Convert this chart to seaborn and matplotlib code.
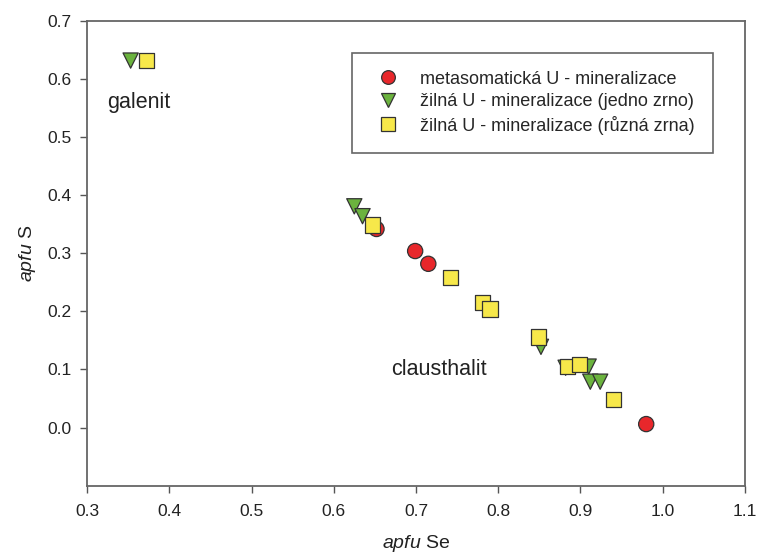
import matplotlib
matplotlib.use("Agg")
import matplotlib.pyplot as plt
import seaborn as sns
import pandas as pd

# values (apfu Se, apfu S)
meta_se = [0.652, 0.699, 0.715, 0.980]
meta_s = [0.342, 0.304, 0.282, 0.006]

jedno_se = [0.353, 0.625, 0.635, 0.852, 0.882, 0.910, 0.912, 0.924]
jedno_s = [0.632, 0.381, 0.364, 0.139, 0.103, 0.105, 0.079, 0.079]

ruzna_se = [0.372, 0.647, 0.742, 0.781, 0.790, 0.849, 0.884, 0.899, 0.940]
ruzna_s = [0.632, 0.349, 0.258, 0.216, 0.204, 0.156, 0.105, 0.108, 0.048]

labels = ["metasomatická U - mineralizace",
          "žilná U - mineralizace (jedno zrno)",
          "žilná U - mineralizace (různá zrna)"]

df = pd.concat([
    pd.DataFrame({"Se": meta_se, "S": meta_s, "typ": labels[0]}),
    pd.DataFrame({"Se": jedno_se, "S": jedno_s, "typ": labels[1]}),
    pd.DataFrame({"Se": ruzna_se, "S": ruzna_s, "typ": labels[2]}),
])

sns.set_theme(style="ticks")
plt.rcParams["font.family"] = ["Liberation Sans", "DejaVu Sans"]
plt.rcParams["mathtext.fontset"] = "custom"
plt.rcParams["mathtext.rm"] = "Liberation Sans"
plt.rcParams["mathtext.it"] = "Liberation Sans:italic"

fig = plt.figure(figsize=(7.57, 5.55), dpi=100)
ax = fig.add_axes([0.115, 0.125, 0.869, 0.837])

palette = {labels[0]: "#e8272b", labels[1]: "#6bb33e", labels[2]: "#f7e84a"}
markers = {labels[0]: "o", labels[1]: "v", labels[2]: "s"}

sns.scatterplot(data=df, x="Se", y="S", hue="typ", style="typ",
                palette=palette, markers=markers, s=120,
                edgecolor="#333333", linewidth=0.9, ax=ax, zorder=3)

ax.set_xlim(0.3, 1.1)
ax.set_ylim(-0.1, 0.7)
ax.set_xticks([0.3, 0.4, 0.5, 0.6, 0.7, 0.8, 0.9, 1.0, 1.1])
ax.set_yticks([0.0, 0.1, 0.2, 0.3, 0.4, 0.5, 0.6, 0.7])
ax.xaxis.set_major_formatter(matplotlib.ticker.FormatStrFormatter("%.1f"))
ax.yaxis.set_major_formatter(matplotlib.ticker.FormatStrFormatter("%.1f"))
ax.tick_params(direction="out", length=5, width=1, color="#555555",
               labelsize=12.5, labelcolor="#222222")
ax.tick_params(axis="x", pad=8)
ax.tick_params(axis="y", pad=6)
for sp in ax.spines.values():
    sp.set_color("#666666")
    sp.set_linewidth(1.3)

ax.set_xlabel(r"$\it{apfu}$ Se", fontsize=14, color="#222222")
ax.set_ylabel(r"$\it{apfu}$ S", fontsize=14, color="#222222")
ax.xaxis.set_label_coords(0.5, -0.102)
ax.yaxis.set_label_coords(-0.074, 0.5)

ax.text(0.325, 0.56, "galenit", fontsize=15.5, color="#222222", va="center")
ax.text(0.67, 0.10, "clausthalit", fontsize=15.5, color="#222222", va="center")

leg = ax.legend(loc="upper left", bbox_to_anchor=(0.402, 0.932), frameon=True,
                fancybox=False, edgecolor="#666666", framealpha=1,
                fontsize=13, borderpad=1.0, handletextpad=0.8,
                labelspacing=0.3, markerscale=0.9, borderaxespad=0)
leg.get_frame().set_linewidth(1.2)

fig.savefig("out.png", dpi=100)
